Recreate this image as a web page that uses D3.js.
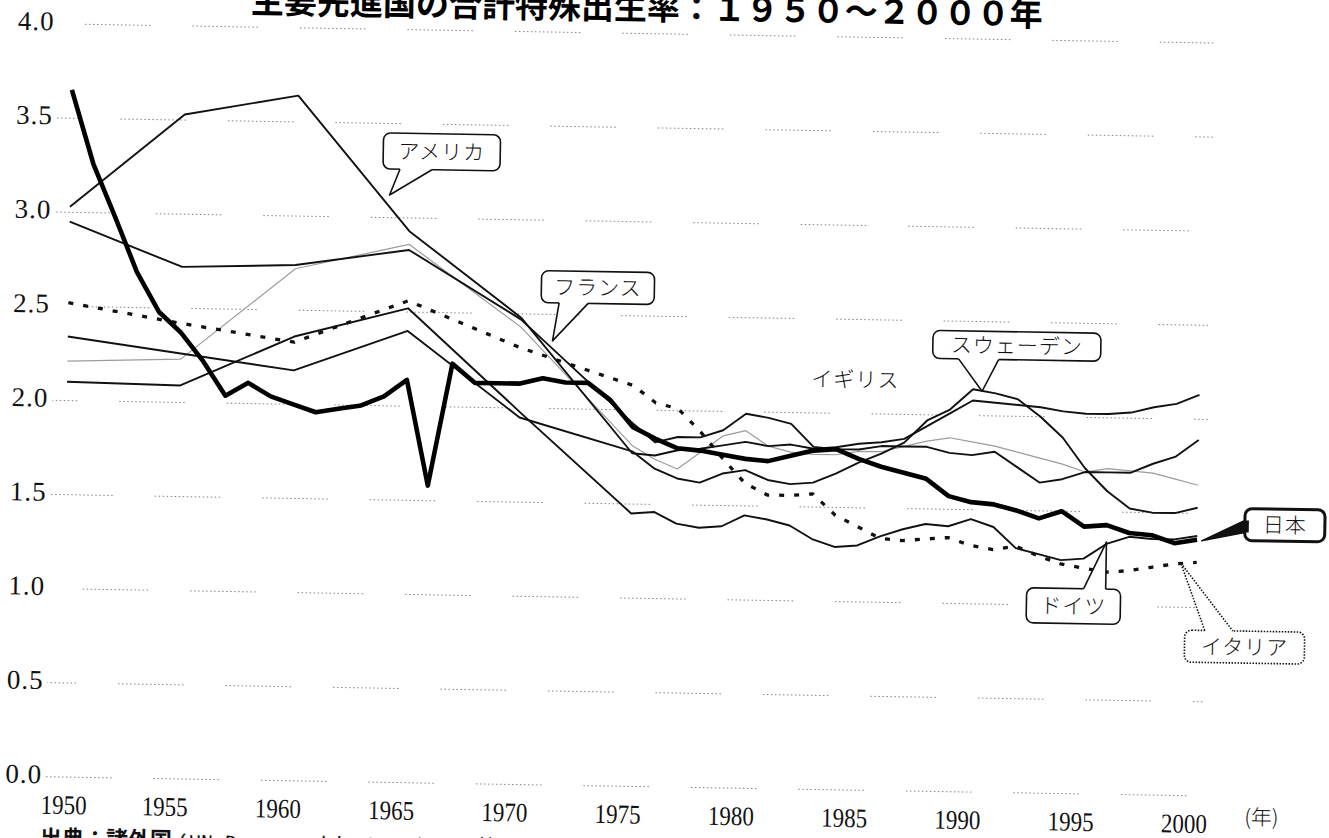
<!DOCTYPE html>
<html lang="ja">
<head>
<meta charset="utf-8">
<title>主要先進国の合計特殊出生率</title>
<script src="https://cdn.jsdelivr.net/npm/d3@7"></script>
<style>
  html, body { margin: 0; padding: 0; background: #fff; }
  svg { display: block; }
</style>
</head>
<body>
<div id="chart"></div>
<script>
// Textes
const titleText = "主要先進国の合計特殊出生率：１９５０～２０００年";
const sourceHead = "出典：諸外国 ";
const sourceTail = "(UN Demographic Yearbook 等)";
const xUnitLabel = "(年)";
const ukLabel = "イギリス";

// Graduations
const yTicks = [0, 0.5, 1, 1.5, 2, 2.5, 3, 3.5, 4];
const yTickLabels = ["0.0", "0.5", "1.0", "1.5", "2.0", "2.5", "3.0", "3.5", "4.0"];
const xTicks = [1950, 1955, 1960, 1965, 1970, 1975, 1980, 1985, 1990, 1995, 2000];

// Années
const yearsJapan = [1950, 1951, 1952, 1953, 1954, 1955, 1956, 1957, 1958, 1959,
  1960, 1961, 1962, 1963, 1964, 1965, 1966, 1967, 1968, 1969,
  1970, 1971, 1972, 1973, 1974, 1975, 1976, 1977, 1978, 1979,
  1980, 1981, 1982, 1983, 1984, 1985, 1986, 1987, 1988, 1989,
  1990, 1991, 1992, 1993, 1994, 1995, 1996, 1997, 1998, 1999, 2000];
const yearsOthers = [1950, 1955, 1960, 1965, 1970,
  1975, 1976, 1977, 1978, 1979, 1980, 1981, 1982, 1983, 1984, 1985, 1986, 1987,
  1988, 1989, 1990, 1991, 1992, 1993, 1994, 1995, 1996, 1997, 1998, 1999, 2000];

// Séries (合計特殊出生率)
const japan = [3.65, 3.26, 2.98, 2.69, 2.48, 2.37, 2.22, 2.04, 2.11, 2.04,
  2.00, 1.96, 1.98, 2.00, 2.05, 2.14, 1.58, 2.23, 2.13, 2.13,
  2.13, 2.16, 2.14, 2.14, 2.05, 1.91, 1.85, 1.80, 1.79, 1.77,
  1.75, 1.74, 1.77, 1.80, 1.81, 1.76, 1.72, 1.69, 1.66, 1.57,
  1.54, 1.53, 1.50, 1.46, 1.50, 1.42, 1.43, 1.39, 1.38, 1.34, 1.36];
const usa = [3.03, 3.53, 3.64, 2.93, 2.48,
  1.77, 1.76, 1.79, 1.80, 1.82, 1.84, 1.82, 1.83, 1.81, 1.82, 1.84, 1.85, 1.87,
  1.94, 2.01, 2.08, 2.07, 2.06, 2.05, 2.03, 2.02, 2.02, 2.03, 2.06, 2.08, 2.13];
const france = [2.95, 2.72, 2.74, 2.83, 2.47,
  1.93, 1.83, 1.86, 1.86, 1.90, 1.99, 1.97, 1.94, 1.82, 1.81, 1.81, 1.83, 1.83,
  1.83, 1.80, 1.79, 1.81, 1.73, 1.65, 1.67, 1.71, 1.71, 1.71, 1.76, 1.80, 1.89];
const uk = [2.21, 2.23, 2.72, 2.86, 2.43,
  1.81, 1.74, 1.69, 1.78, 1.87, 1.90, 1.82, 1.79, 1.78, 1.78, 1.80, 1.80, 1.83,
  1.86, 1.88, 1.86, 1.84, 1.81, 1.78, 1.75, 1.71, 1.73, 1.72, 1.71, 1.68, 1.65];
const sweden = [2.34, 2.26, 2.18, 2.40, 1.95,
  1.78, 1.69, 1.64, 1.62, 1.67, 1.69, 1.64, 1.62, 1.63, 1.68, 1.74, 1.79, 1.85,
  1.97, 2.03, 2.14, 2.12, 2.09, 2.00, 1.89, 1.73, 1.61, 1.52, 1.50, 1.50, 1.53];
const germany = [2.10, 2.09, 2.36, 2.52, 1.98,
  1.45, 1.46, 1.40, 1.38, 1.39, 1.45, 1.43, 1.40, 1.33, 1.29, 1.30, 1.35, 1.39,
  1.42, 1.41, 1.45, 1.41, 1.30, 1.27, 1.24, 1.25, 1.33, 1.37, 1.36, 1.36, 1.38];
const italy = [2.52, 2.42, 2.33, 2.56, 2.32,
  2.13, 2.04, 2.01, 1.89, 1.75, 1.62, 1.56, 1.56, 1.57, 1.46, 1.40, 1.34, 1.33,
  1.34, 1.35, 1.31, 1.29, 1.31, 1.26, 1.22, 1.20, 1.18, 1.19, 1.21, 1.23, 1.24];

const series = [
  { name: "イギリス", years: yearsOthers, values: uk },
  { name: "アメリカ", years: yearsOthers, values: usa },
  { name: "フランス", years: yearsOthers, values: france },
  { name: "スウェーデン", years: yearsOthers, values: sweden },
  { name: "ドイツ", years: yearsOthers, values: germany },
  { name: "イタリア", years: yearsOthers, values: italy },
  { name: "日本", years: yearsJapan, values: japan }
];

// Styles des courbes
const lineStyles = {
  "イギリス": { stroke: "#9c9c9c", width: 1.2 },
  "アメリカ": { stroke: "#111", width: 1.9 },
  "フランス": { stroke: "#111", width: 1.9 },
  "スウェーデン": { stroke: "#111", width: 1.9 },
  "ドイツ": { stroke: "#111", width: 1.9 },
  "イタリア": { stroke: "#111", width: 3.3, dash: "5,10" },
  "日本": { stroke: "#000", width: 4.6 }
};

// Bulles : point visé (année, valeur) + décalages en pixels
const callouts = [
  { label: "アメリカ", year: 1964.1, value: 3.12, box: [-7, -62, 117, 36], base: [[10, -26], [42, -26]], inward: [0, -3] },
  { label: "フランス", year: 1971.4, value: 2.36, box: [-12, -70, 113, 32], base: [[6, -38], [35, -38]], inward: [0, -3] },
  { label: "スウェーデン", year: 1990.4, value: 2.13, box: [-50, -60, 168, 28], base: [[-24, -32], [16, -32]], inward: [0, -3] },
  { label: "日本", year: 2000.2, value: 1.355, box: [43, -33, 80, 32], base: [[43, -21], [43, -9]], inward: [4, 0], sw: 3, tailFill: "#111" },
  { label: "ドイツ", year: 1996.0, value: 1.34, box: [-79, 47, 94, 35], base: [[-22, 47], [0, 47]], inward: [0, 3] },
  { label: "イタリア", year: 1999.3, value: 1.235, box: [5, 67, 120, 32], base: [[25, 67], [53, 67]], inward: [0, 3], dash: "1.5,1.5" }
];

// Échelles
const x = d3.scaleLinear().domain([1950, 2000]).range([60.5, 1193]);
const y = d3.scaleLinear().domain([0, 4]).range([777, 24]);
const tilt = 0.95; // la page scannée est légèrement penchée

const svg = d3.select("#chart").append("svg")
    .attr("width", 1329)
    .attr("height", 838);

svg.append("rect").attr("width", 1329).attr("height", 838).attr("fill", "#fff");

const g = svg.append("g")
    .attr("transform", `rotate(${tilt},${x(1950)},${y(0)})`);

// Titre
g.append("text")
    .attr("x", 634)
    .attr("y", 10)
    .attr("text-anchor", "middle")
    .attr("font-family", "'Noto Sans CJK JP', sans-serif")
    .attr("font-weight", 700)
    .attr("font-size", "33px")
    .attr("fill", "#000")
    .text(titleText);

// Grille pointillée
const gridDash = d3.range(16).map(() => "1.5,2.5").join(",") + ",1.5,42";
g.append("g")
    .selectAll("line")
    .data(yTicks)
    .enter().append("line")
    .attr("x1", 46)
    .attr("x2", x(2000) + 10)
    .attr("y1", d => y(d))
    .attr("y2", d => y(d))
    .attr("stroke", "#777")
    .attr("stroke-width", 0.9)
    .attr("stroke-dasharray", gridDash)
    .attr("stroke-dashoffset", (d, i) => i * 37);

// Axe Y
const yAxis = g.append("g")
    .attr("transform", "translate(46,0)")
    .call(d3.axisLeft(y).tickValues(yTicks).tickSize(0).tickPadding(4)
        .tickFormat((d, i) => yTickLabels[i]));
yAxis.select(".domain").remove();
yAxis.selectAll("text")
    .attr("dy", "0.22em")
    .attr("font-family", "'Liberation Serif', serif")
    .attr("font-size", "27px")
    .attr("letter-spacing", "1px")
    .attr("fill", "#111");

// Axe X
const xAxis = g.append("g")
    .attr("transform", `translate(0,${y(0)})`)
    .call(d3.axisBottom(x).tickValues(xTicks).tickSize(0).tickFormat(d3.format("d")));
xAxis.select(".domain").remove();
xAxis.selectAll("text")
    .attr("y", 37)
    .attr("dy", 0)
    .attr("dx", (d, i) => i === 0 ? 3 : -9)
    .attr("font-family", "'Liberation Serif', serif")
    .attr("font-size", "27px")
    .attr("textLength", 46)
    .attr("lengthAdjust", "spacingAndGlyphs")
    .attr("fill", "#111");

g.append("text")
    .attr("x", x(2000) + 69)
    .attr("y", y(0) + 28)
    .attr("text-anchor", "middle")
    .attr("font-family", "'Noto Sans CJK JP', sans-serif")
    .attr("font-weight", 300)
    .attr("font-size", "21px")
    .attr("fill", "#111")
    .text(xUnitLabel);

// Courbes
const line = d3.line()
    .x(d => x(d[0]))
    .y(d => y(d[1]));

g.append("g")
    .selectAll("path")
    .data(series)
    .enter().append("path")
    .attr("d", s => line(d3.zip(s.years, s.values)))
    .attr("fill", "none")
    .attr("stroke", s => lineStyles[s.name].stroke)
    .attr("stroke-width", s => lineStyles[s.name].width)
    .attr("stroke-dasharray", s => lineStyles[s.name].dash || null)
    .attr("stroke-linejoin", "round");

// Étiquette libre (イギリス)
g.append("text")
    .attr("x", x(1984.8))
    .attr("y", y(2.18))
    .attr("dy", "0.35em")
    .attr("text-anchor", "middle")
    .attr("font-family", "'Noto Sans CJK JP', sans-serif")
    .attr("font-weight", 300)
    .attr("font-size", "21px")
    .attr("letter-spacing", "1px")
    .attr("fill", "#111")
    .text(ukLabel);

// Bulles
const annot = g.append("g");
callouts.forEach(c => {
  const tx = x(c.year), ty = y(c.value);
  const [bx, by, bw, bh] = c.box;
  const sw = c.sw || 1.6;
  const b1 = [tx + c.base[0][0], ty + c.base[0][1]];
  const b2 = [tx + c.base[1][0], ty + c.base[1][1]];
  const i1 = [b1[0] + c.inward[0], b1[1] + c.inward[1]];
  const i2 = [b2[0] + c.inward[0], b2[1] + c.inward[1]];
  const cg = annot.append("g");

  cg.append("rect")
      .attr("x", tx + bx)
      .attr("y", ty + by)
      .attr("width", bw)
      .attr("height", bh)
      .attr("rx", 7)
      .attr("fill", "#fff")
      .attr("stroke", "#111")
      .attr("stroke-width", sw)
      .attr("stroke-dasharray", c.dash || null);

  // on efface le bord sous la pointe
  cg.append("path")
      .attr("d", `M${i1}L${b1}L${tx},${ty}L${b2}L${i2}Z`)
      .attr("fill", c.tailFill || "#fff");

  cg.append("path")
      .attr("d", `M${b1}L${tx},${ty}L${b2}`)
      .attr("fill", "none")
      .attr("stroke", "#111")
      .attr("stroke-width", c.tailFill ? 1.5 : sw)
      .attr("stroke-linejoin", "round")
      .attr("stroke-dasharray", c.dash || null);

  cg.append("text")
      .attr("x", tx + bx + bw / 2)
      .attr("y", ty + by + bh / 2)
      .attr("dy", "0.36em")
      .attr("text-anchor", "middle")
      .attr("font-family", "'Noto Sans CJK JP', sans-serif")
      .attr("font-weight", 300)
      .attr("font-size", "21px")
      .attr("letter-spacing", "1px")
      .attr("fill", "#111")
      .text(c.label);
});

// Source (coupée en bas de page)
const src = g.append("text")
    .attr("x", 41)
    .attr("y", 846)
    .attr("fill", "#111");
src.append("tspan")
    .attr("font-family", "'Noto Sans CJK JP', sans-serif")
    .attr("font-weight", 700)
    .attr("font-size", "22px")
    .text(sourceHead);
src.append("tspan")
    .attr("font-family", "'Liberation Mono', monospace")
    .attr("font-size", "20px")
    .text(sourceTail);
</script>
</body>
</html>
